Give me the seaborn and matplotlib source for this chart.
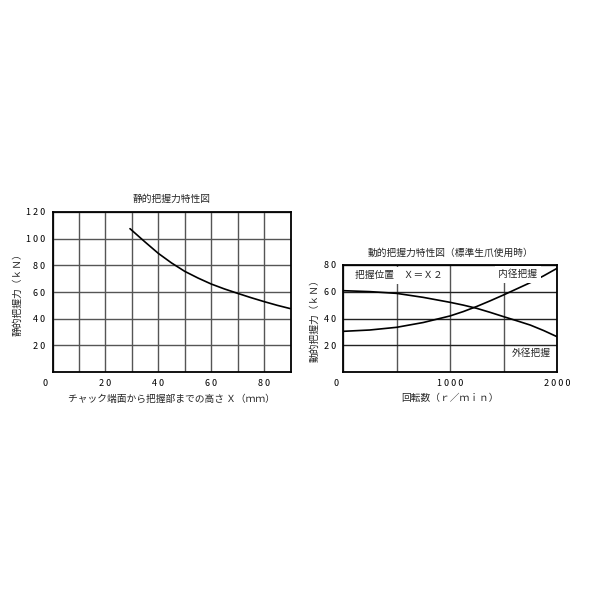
import matplotlib
matplotlib.use("Agg")
import matplotlib.pyplot as plt
import matplotlib.transforms as mtransforms
import seaborn as sns
import pandas as pd

# ---- data: static gripping force ----
static_x = [29.3, 35, 40, 45, 50, 55, 60, 65, 70, 75, 80, 85, 90]
static_force = [107.5, 97.5, 89.0, 81.8, 75.5, 70.5, 66.0, 62.3, 59.0, 55.8, 52.8, 50.0, 47.5]

# ---- data: dynamic gripping force ----
speed = [0, 250, 500, 750, 1000, 1125, 1250, 1375, 1500, 1625, 1750, 1875, 2000]
outer_grip = [60.8, 60.1, 58.8, 55.8, 52.1, 50.0, 47.6, 44.6, 41.4, 38.3, 35.1, 31.0, 26.4]
inner_grip = [30.4, 31.4, 33.4, 37.0, 41.9, 45.2, 49.0, 53.2, 57.6, 62.2, 66.8, 71.9, 77.5]

left_xticks = [0, 20, 40, 60, 80]
left_xticklabels = ["0", "2 0", "4 0", "6 0", "8 0"]
left_yticks = [20, 40, 60, 80, 100, 120]
left_yticklabels = ["2 0", "4 0", "6 0", "8 0", "1 0 0", "1 2 0"]
right_xticks = [0, 1000, 2000]
right_xticklabels = ["0", "1 0 0 0", "2 0 0 0"]
right_yticks = [20, 40, 60, 80]
right_yticklabels = ["2 0", "4 0", "6 0", "8 0"]

sns.set_theme(style="white")
plt.rcParams["font.family"] = ["Noto Sans CJK JP", "DejaVu Sans"]

fig = plt.figure(figsize=(6, 6), dpi=100)
fig.patch.set_facecolor("white")

FS_TICK = 6.5
FS_TEXT = 7.0

def style_axes(ax):
    ax.set_facecolor("white")
    for s in ax.spines.values():
        s.set_visible(True)
        s.set_color("black")
        s.set_linewidth(1.3)
    ax.tick_params(axis="both", which="both", length=0, labelsize=FS_TICK, colors="black", pad=5)
    ax.set_axisbelow(True)

# ---------------- left chart ----------------
ax1 = fig.add_axes([52.5 / 600, 1 - 372 / 600, 238 / 600, 160 / 600])
df1 = pd.DataFrame({"x": static_x, "f": static_force})
sns.lineplot(data=df1, x="x", y="f", ax=ax1, color="black", lw=1.2, sort=True)
ax1.set_xlim(0, 90)
ax1.set_ylim(0, 120)
ax1.set_xticks(left_xticks)
ax1.set_xticklabels(left_xticklabels)
ax1.set_yticks(left_yticks)
ax1.set_yticklabels(left_yticklabels)
ax1.set_xticks([10, 30, 50, 70], minor=True)
ax1.grid(True, which="both", axis="x", color="#555555", lw=1.0)
ax1.grid(True, which="major", axis="y", color="#555555", lw=1.0)
style_axes(ax1)
ax1.set_title("静的把握力特性図", fontsize=FS_TEXT, pad=7)
ax1.set_xlabel("チャック端面から把握部までの高さ Ｘ（ｍｍ）", fontsize=FS_TEXT, labelpad=4)
ax1.set_ylabel("静的把握力（ｋＮ）", fontsize=FS_TEXT, labelpad=3)
lab0 = ax1.get_xticklabels()[0]
lab0.set_transform(lab0.get_transform() + mtransforms.ScaledTranslation(-7 / 100, 0, fig.dpi_scale_trans))

# ---------------- right chart ----------------
ax2 = fig.add_axes([343 / 600, 1 - 372 / 600, 214 / 600, 107 / 600])
df2 = pd.DataFrame({"speed": speed + speed,
                    "force": outer_grip + inner_grip,
                    "grip": ["外径把握"] * len(speed) + ["内径把握"] * len(speed)})
sns.lineplot(data=df2, x="speed", y="force", units="grip", estimator=None,
             ax=ax2, color="black", lw=1.2, legend=False)
ax2.set_xlim(0, 2000)
ax2.set_ylim(0, 80)
ax2.set_xticks(right_xticks)
ax2.set_xticklabels(right_xticklabels)
ax2.set_yticks(right_yticks)
ax2.set_yticklabels(right_yticklabels)
ax2.set_xticks([500, 1500], minor=True)
ax2.grid(True, which="both", axis="x", color="#555555", lw=1.0)
ax2.grid(True, which="major", axis="y", color="#222222", lw=1.0)
style_axes(ax2)
ax2.set_title("動的把握力特性図（標準生爪使用時）", fontsize=FS_TEXT, pad=7)
ax2.set_xlabel("回転数（ｒ／ｍｉｎ）", fontsize=FS_TEXT, labelpad=4)
ax2.set_ylabel("動的把握力（ｋＮ）", fontsize=FS_TEXT, labelpad=3)
lab0 = ax2.get_xticklabels()[0]
lab0.set_transform(lab0.get_transform() + mtransforms.ScaledTranslation(-7 / 100, 0, fig.dpi_scale_trans))

box = dict(facecolor="white", edgecolor="none", pad=2.5)
ax2.text(110, 72.5, "把握位置　Ｘ＝Ｘ２", fontsize=FS_TEXT, va="center", ha="left", bbox=box, zorder=4)
ax2.text(1450, 73.0, "内径把握", fontsize=FS_TEXT, va="center", ha="left", bbox=box, zorder=4)
ax2.text(1580, 14.2, "外径把握", fontsize=FS_TEXT, va="center", ha="left", zorder=4)

fig.savefig("out.png", dpi=100, facecolor="white")
